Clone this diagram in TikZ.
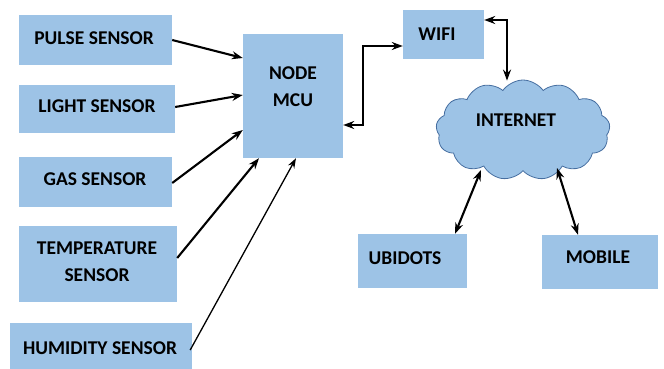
\documentclass[tikz,border=0pt]{standalone}
\usepackage{fontspec}
\setmainfont{Carlito}
\usetikzlibrary{shapes.symbols,arrows.meta}
\definecolor{boxblue}{RGB}{157,195,230}
\definecolor{cloudedge}{RGB}{70,110,160}
\tikzset{
  box/.style={fill=boxblue, draw=none, inner sep=0pt},
  lbl/.style={font=\fontsize{19.5}{27}\selectfont\bfseries, align=center, inner sep=0pt},
  arr/.style={-{Stealth[length=11pt,width=8pt]}, line width=2.1pt},
  darr/.style={{Stealth[length=11pt,width=8pt]}-{Stealth[length=11pt,width=8pt]}, line width=2.1pt},
  thinarr/.style={-{Stealth[length=10pt,width=7pt]}, line width=1.3pt}
}
\begin{document}
\begin{tikzpicture}[x=1pt,y=-1pt]
\useasboundingbox (0,0) rectangle (664,369);
% sensor boxes
\node (pulse) [box, minimum width=153pt, minimum height=50pt] at (95.5,40) {};
\node [lbl] at (94,38) {PULSE SENSOR};
\node (light) [box, minimum width=156pt, minimum height=48pt] at (97,109) {};
\node [lbl] at (97,106) {LIGHT SENSOR};
\node (gas) [box, minimum width=153pt, minimum height=50pt] at (95.5,182) {};
\node [lbl] at (95,179) {GAS SENSOR};
\node (temp) [box, minimum width=158pt, minimum height=76pt] at (98,264) {};
\node [lbl] at (97,262) {TEMPERATURE\\SENSOR};
\node (hum) [box, minimum width=182pt, minimum height=46pt] at (101,346) {};
\node [lbl] at (100,348) {HUMIDITY SENSOR};
% node mcu
\node (mcu) [box, minimum width=100pt, minimum height=124pt] at (293,96) {};
\node [lbl] at (293,87) {NODE\\MCU};
% wifi
\node (wifi) [box, minimum width=81pt, minimum height=49pt] at (443.5,34.5) {};
\node [lbl] at (437,34) {WIFI};
% internet cloud
\node (cloud) [cloud, cloud puffs=13, cloud puff arc=110, aspect=1.8, fill=boxblue, draw=cloudedge, line width=0.8pt, minimum width=174pt, minimum height=100pt, inner sep=0pt] at (523,130) {};
\node [lbl] at (516,120) {INTERNET};
% ubidots, mobile
\node (ubi) [box, minimum width=109pt, minimum height=54pt] at (412.5,261) {};
\node [lbl] at (405,258) {UBIDOTS};
\node (mob) [box, minimum width=116pt, minimum height=54pt] at (600,262) {};
\node [lbl] at (598,257) {MOBILE};
% connectors
\draw[arr] (pulse.east) -- ([yshift=38pt]mcu.west);
\draw[arr] ([yshift=2pt]light.east) -- ([yshift=1pt]mcu.west);
\draw[arr] ([yshift=-1pt]gas.east) -- ([yshift=-34pt]mcu.west);
\draw[arr] ([yshift=6pt]temp.east) -- ([xshift=-34pt]mcu.south);
\draw[thinarr] ([xshift=-2pt,yshift=-4pt]hum.east) -- ([xshift=3pt]mcu.south);
\draw[darr] ([yshift=-29pt]mcu.east) -- ([xshift=20pt,yshift=-29pt]mcu.east) |- ([yshift=-11.5pt]wifi.west);
\draw[darr] ([yshift=14.5pt]wifi.east) -| ([xshift=-16pt,yshift=-1pt]cloud.north);
\draw[darr] ([xshift=-42pt,yshift=-40pt]cloud.center) -- ([xshift=42.5pt]ubi.north);
\draw[darr] ([xshift=34pt,yshift=-38pt]cloud.center) -- ([xshift=-22pt]mob.north);
\end{tikzpicture}
\end{document}
